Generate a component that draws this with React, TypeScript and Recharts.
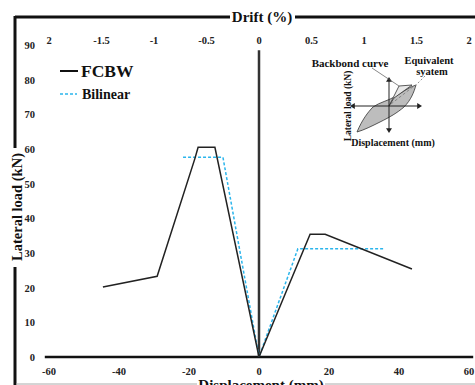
import React from 'react';
import { LineChart, Line, XAxis, YAxis, ReferenceLine } from 'recharts';

// displacement (mm) / lateral load (kN)
const fcbwDisp = [-44.6, -29.1, -18.3, -17.4, -12.6, 0, 8.3, 14.6, 18.9, 43.7];
const fcbwLoad = [20.2, 23.3, 57.3, 60.5, 60.5, 0, 20.2, 35.4, 35.4, 25.4];
const bilinearDisp = [-21.7, -10.3, 0, 11.1, 36];
const bilinearLoad = [57.6, 57.6, 0, 31.2, 31.2];

const dispTicks = [-60, -40, -20, 0, 20, 40, 60];
const driftTicks = [-2, -1.5, -1, -0.5, 0, 0.5, 1, 1.5, 2];
const driftLabels = ['2', '-1.5', '-1', '-0.5', '0', '0.5', '1', '1.5', '2'];
const loadTicks = [0, 10, 20, 30, 40, 50, 60, 70, 80, 90];

const FONT = '"Liberation Serif", "Times New Roman", serif';
const BLUE = '#2bb5ec';

const fcbwData = fcbwDisp.map((x, i) => ({ x, y: fcbwLoad[i] }));
const bilinearData = bilinearDisp.map((x, i) => ({ x, y: bilinearLoad[i] }));

const BottomTick = (props: any) => {
  const { x, y, payload } = props;
  return (
    <text x={x} y={y + 10} textAnchor="middle" fontFamily={FONT} fontWeight="bold" fontSize={10.5} fill="#222">
      {payload.value}
    </text>
  );
};

const TopTick = (props: any) => {
  const { x, y, payload } = props;
  const idx = driftTicks.indexOf(payload.value);
  return (
    <text x={x} y={y + 7} textAnchor="middle" fontFamily={FONT} fontWeight="bold" fontSize={10.5} fill="#222">
      {idx >= 0 ? driftLabels[idx] : payload.value}
    </text>
  );
};

const LeftTick = (props: any) => {
  const { y, payload } = props;
  return (
    <text x={35} y={y + 4} textAnchor="end" fontFamily={FONT} fontWeight="bold" fontSize={10.5} fill="#222">
      {payload.value}
    </text>
  );
};

const arrow = (x: number, y: number, dir: 'u' | 'd' | 'l' | 'r') => {
  const s = 3;
  const pts =
    dir === 'u' ? `${x},${y} ${x - s},${y + s * 1.6} ${x + s},${y + s * 1.6}` :
    dir === 'd' ? `${x},${y} ${x - s},${y - s * 1.6} ${x + s},${y - s * 1.6}` :
    dir === 'l' ? `${x},${y} ${x + s * 1.6},${y - s} ${x + s * 1.6},${y + s}` :
    `${x},${y} ${x - s * 1.6},${y - s} ${x - s * 1.6},${y + s}`;
  return <polygon points={pts} fill="#222" />;
};

const Overlay = () => (
  <svg width={475} height={385} style={{ position: 'absolute', top: 0, left: 0, pointerEvents: 'none' }}>
    {/* frame */}
    <line x1={15} y1={17} x2={230} y2={17} stroke="#111" strokeWidth={3} />
    <line x1={295} y1={17} x2={475} y2={17} stroke="#111" strokeWidth={3} />
    <text x={262} y={22} textAnchor="middle" fontFamily={FONT} fontWeight="bold" fontSize={15} fill="#111">Drift (%)</text>
    <line x1={15} y1={16} x2={15} y2={148} stroke="#111" strokeWidth={3} />
    <line x1={15} y1={267} x2={15} y2={385} stroke="#111" strokeWidth={3} />
    <text x={22} y={207} transform="rotate(-90 22 207)" textAnchor="middle" fontFamily={FONT} fontWeight="bold" fontSize={14.5} fill="#111">Lateral load (kN)</text>
    <line x1={16} y1={384} x2={197} y2={384} stroke="#aaa" strokeWidth={1} />
    <line x1={325} y1={384} x2={475} y2={384} stroke="#aaa" strokeWidth={1} />
    <text x={261} y={390} textAnchor="middle" fontFamily={FONT} fontWeight="bold" fontSize={15} fill="#111">Displacement (mm)</text>

    {/* legend */}
    <line x1={60} y1={71} x2={78} y2={71} stroke="#111" strokeWidth={2} />
    <text x={81} y={77} fontFamily={FONT} fontWeight="bold" fontSize={17.5} fill="#111">FCBW</text>
    <line x1={60} y1={94} x2={77} y2={94} stroke={BLUE} strokeWidth={1.5} strokeDasharray="3 2" />
    <text x={82} y={99} fontFamily={FONT} fontWeight="bold" fontSize={14} fill="#111">Bilinear</text>

    {/* inset schematic */}
    <path d="M357,132 C362,120 368,112 373,107 C380,102 388,101 396,96 C403,92 409,87 416,85 C414,92 411,100 404,107 C397,113 390,117 380,122 C372,126 364,130 357,132 Z" fill="#bdbdbd" stroke="#333" strokeWidth={0.8} />
    <path d="M389,106 L399,86 L412,85 L394,98 Z" fill="#e8e8e8" stroke="#333" strokeWidth={0.8} />
    <line x1={391} y1={104} x2={414} y2={86} stroke="#777" strokeWidth={0.8} strokeDasharray="3 2" />
    <line x1={389} y1={80} x2={389} y2={130} stroke="#222" strokeWidth={1} />
    {arrow(389, 77, 'u')}
    {arrow(389, 133, 'd')}
    <line x1={353} y1={106} x2={419} y2={106} stroke="#222" strokeWidth={1} />
    {arrow(350, 106, 'l')}
    {arrow(422, 106, 'r')}
    <line x1={372} y1={68} x2={399} y2={86} stroke="#555" strokeWidth={0.7} />
    <line x1={425} y1={76} x2={415} y2={86} stroke="#777" strokeWidth={0.8} strokeDasharray="2 2" />
    <text x={350} y={67} textAnchor="middle" fontFamily={FONT} fontWeight="bold" fontSize={11} fill="#111">Backbond curve</text>
    <text x={429} y={64} textAnchor="middle" fontFamily={FONT} fontWeight="bold" fontSize={10.5} fill="#111">Equivalent</text>
    <text x={432} y={75} textAnchor="middle" fontFamily={FONT} fontWeight="bold" fontSize={10.5} fill="#111">syatem</text>
    <text x={351} y={106} transform="rotate(-90 351 106)" textAnchor="middle" fontFamily={FONT} fontWeight="bold" fontSize={9.5} fill="#111">Lateral load (kN)</text>
    <text x={393} y={146} textAnchor="middle" fontFamily={FONT} fontWeight="bold" fontSize={10} fill="#111">Displacement (mm)</text>
  </svg>
);

export default function App() {
  return (
    <div style={{ position: 'absolute', top: 0, left: 0, width: 475, height: 385, background: '#fff', overflow: 'hidden' }}>
      <LineChart width={475} height={385} margin={{ top: 20, right: 6, bottom: 8, left: 19 }}>
        <XAxis xAxisId="disp" type="number" dataKey="x" domain={[-60, 60]} ticks={dispTicks} allowDataOverflow
          axisLine={false} tickLine={false} height={20} tick={<BottomTick />} interval={0} />
        <XAxis xAxisId="drift" orientation="top" type="number" dataKey="x" domain={[-2, 2]} ticks={driftTicks} allowDataOverflow
          axisLine={false} tickLine={false} height={25} tick={<TopTick />} interval={0} />
        <YAxis type="number" domain={[0, 90]} ticks={loadTicks} width={30} allowDataOverflow
          axisLine={false} tickLine={false} tick={<LeftTick />} interval={0} />
        <ReferenceLine xAxisId="disp" ifOverflow="visible" segment={[{ x: -61.2, y: 0 }, { x: 61.2, y: 0 }]} stroke="#111" strokeWidth={2.5} />
        <ReferenceLine xAxisId="disp" ifOverflow="visible" segment={[{ x: 0, y: 0 }, { x: 0, y: 88.5 }]} stroke="#333" strokeWidth={2.5} />
        <Line xAxisId="disp" data={bilinearData} dataKey="y" type="linear" stroke={BLUE} strokeWidth={1.5}
          strokeDasharray="3 2" dot={false} isAnimationActive={false} name="Bilinear" />
        <Line xAxisId="disp" data={fcbwData} dataKey="y" type="linear" stroke="#222" strokeWidth={1.5}
          dot={false} isAnimationActive={false} name="FCBW" />
      </LineChart>
      <Overlay />
    </div>
  );
}
